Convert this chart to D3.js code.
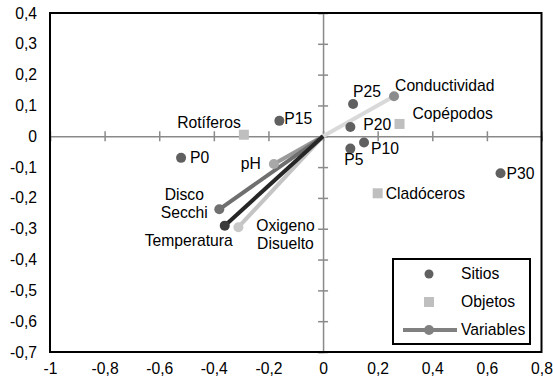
<!DOCTYPE html>
<html>
<head>
<meta charset="utf-8">
<script src="https://cdn.jsdelivr.net/npm/d3@7"></script>
<style>
  body { margin: 0; background: #fff; }
  svg { font-family: "Liberation Sans", Arial, sans-serif; }
</style>
</head>
<body>
<div id="chart"></div>
<script>
// data
var sitios = ["P0", "P5", "P10", "P15", "P20", "P25", "P30"];
var sitiosX = [-0.52, 0.10, 0.15, -0.16, 0.10, 0.11, 0.65];
var sitiosY = [-0.07, -0.04, -0.02, 0.05, 0.03, 0.105, -0.12];

var objetos = ["Rotíferos", "Copépodos", "Cladóceros"];
var objetosX = [-0.29, 0.28, 0.20];
var objetosY = [0.005, 0.04, -0.185];

var variables = ["pH", "Conductividad", "Oxigeno Disuelto", "Disco Secchi", "Temperatura"];
var variablesX = [-0.18, 0.26, -0.31, -0.38, -0.36];
var variablesY = [-0.09, 0.13, -0.295, -0.237, -0.29];

var xTicks = [-1, -0.8, -0.6, -0.4, -0.2, 0, 0.2, 0.4, 0.6, 0.8];
var yTicks = [-0.7, -0.6, -0.5, -0.4, -0.3, -0.2, -0.1, 0, 0.1, 0.2, 0.3, 0.4];
var legendNames = ["Sitios", "Objetos", "Variables"];

var width = 553, height = 383;
var plot = {left: 50, right: 541.5, top: 13, bottom: 352};
var fontSize = "15.7px";

var x = d3.scaleLinear().domain([-1, 0.8]).range([plot.left, plot.right]);
var y = d3.scaleLinear().domain([-0.7, 0.4]).range([plot.bottom, plot.top]);

var fmt = function(d) { return String(+d.toFixed(1)).replace(".", ","); };

// label placement: [dx, dy, anchor]
var labelPos = {
  "P0": [9, 0, "start"], "P5": [-6, 11, "start"], "P10": [7, 6, "start"],
  "P15": [5, -2, "start"], "P20": [13, -3, "start"], "P25": [0, -12, "start"],
  "P30": [6, 0, "start"],
  "Rotíferos": [-3, -12, "end"], "Copépodos": [13, -10, "start"], "Cladóceros": [8, 0, "start"],
  "pH": [-13, -1, "end"], "Conductividad": [1, -11, "start"],
  "Oxigeno Disuelto": [47, -2, "middle"], "Disco Secchi": [-35, -15, "middle"],
  "Temperatura": [-36, 15, "middle"]
};
var varStyle = {
  "pH": ["#9a9a9a", "#a8a8a8"],
  "Conductividad": ["#d9d9d9", "#8c8c8c"],
  "Oxigeno Disuelto": ["#c4c4c4", "#c8c8c8"],
  "Disco Secchi": ["#6f6f6f", "#707070"],
  "Temperatura": ["#262626", "#3a3a3a"]
};

var svg = d3.select("#chart").append("svg")
    .attr("width", width)
    .attr("height", height);

// tick labels
svg.append("g")
    .attr("transform", "translate(" + (plot.left - 3) + ",0)")
    .call(d3.axisLeft(y).tickValues(yTicks).tickSize(0).tickPadding(10).tickFormat(fmt))
    .call(function(g) { g.select(".domain").remove(); })
    .selectAll("text").style("font-size", fontSize).attr("fill", "#000");

svg.append("g")
    .attr("transform", "translate(0," + (plot.bottom + 6) + ")")
    .call(d3.axisBottom(x).tickValues(xTicks).tickSize(0).tickPadding(5).tickFormat(fmt))
    .call(function(g) { g.select(".domain").remove(); })
    .selectAll("text").style("font-size", fontSize).attr("fill", "#000");

// axes through origin
var hx = svg.append("g")
    .attr("transform", "translate(0," + y(0) + ")")
    .call(d3.axisBottom(x).tickValues(xTicks).tickSize(5).tickFormat(""));
hx.select(".domain").attr("stroke", "#8a8a8a").attr("stroke-width", 1.5);
hx.selectAll(".tick line").attr("y1", -5).attr("stroke", "#8a8a8a").attr("stroke-width", 1.5);

var vy = svg.append("g")
    .attr("transform", "translate(" + x(0) + ",0)")
    .call(d3.axisLeft(y).tickValues(yTicks).tickSize(5).tickFormat(""));
vy.select(".domain").attr("stroke", "#8a8a8a").attr("stroke-width", 1.5);
vy.selectAll(".tick line").attr("x1", 5).attr("stroke", "#8a8a8a").attr("stroke-width", 1.5);

// plot border
svg.append("rect")
    .attr("x", plot.left).attr("y", plot.top)
    .attr("width", plot.right - plot.left).attr("height", plot.bottom - plot.top)
    .attr("fill", "none").attr("stroke", "#000").attr("stroke-width", 2);

function addLabel(name, px, py) {
  var p = labelPos[name];
  var words = name.indexOf(" ") > 0 && p[2] == "middle" && name != "Temperatura" ? name.split(" ") : [name];
  svg.append("text")
      .attr("x", px + p[0])
      .attr("y", py + p[1])
      .attr("text-anchor", p[2])
      .attr("dy", "0.35em")
      .style("font-size", fontSize)
      .text(words[0]);
  if (words.length > 1) {
    svg.append("text")
        .attr("x", px + p[0])
        .attr("y", py + p[1] + 18)
        .attr("text-anchor", p[2])
        .attr("dy", "0.35em")
        .style("font-size", fontSize)
        .text(words[1]);
  }
}

// variables (vectors)
variables.forEach(function(v, i) {
  svg.append("line")
      .attr("x1", x(0)).attr("y1", y(0))
      .attr("x2", x(variablesX[i])).attr("y2", y(variablesY[i]))
      .attr("stroke", varStyle[v][0]).attr("stroke-width", 4);
});
variables.forEach(function(v, i) {
  svg.append("circle")
      .attr("cx", x(variablesX[i])).attr("cy", y(variablesY[i]))
      .attr("r", 5)
      .attr("fill", varStyle[v][1]);
  addLabel(v, x(variablesX[i]), y(variablesY[i]));
});

// objetos
svg.selectAll(".obj")
    .data(objetos)
    .enter()
    .append("rect")
    .attr("x", function(d, i) { return x(objetosX[i]) - 5; })
    .attr("y", function(d, i) { return y(objetosY[i]) - 5; })
    .attr("width", 10).attr("height", 10)
    .attr("fill", "#bfbfbf");
objetos.forEach(function(o, i) { addLabel(o, x(objetosX[i]), y(objetosY[i])); });

// sitios
svg.selectAll(".sit")
    .data(sitios)
    .enter()
    .append("circle")
    .attr("cx", function(d, i) { return x(sitiosX[i]); })
    .attr("cy", function(d, i) { return y(sitiosY[i]); })
    .attr("r", 5)
    .attr("fill", "#606060");
sitios.forEach(function(s, i) { addLabel(s, x(sitiosX[i]), y(sitiosY[i])); });

// legend
var lg = svg.append("g").attr("transform", "translate(393,259)");
lg.append("rect")
    .attr("width", 137).attr("height", 85)
    .attr("fill", "#fff").attr("stroke", "#000").attr("stroke-width", 2);
lg.append("circle").attr("cx", 36).attr("cy", 15).attr("r", 4.5).attr("fill", "#606060");
lg.append("rect").attr("x", 31).attr("y", 38).attr("width", 10).attr("height", 10).attr("fill", "#bfbfbf");
lg.append("line").attr("x1", 10).attr("x2", 64).attr("y1", 71).attr("y2", 71)
    .attr("stroke", "#808080").attr("stroke-width", 4);
lg.append("circle").attr("cx", 36).attr("cy", 71).attr("r", 5).attr("fill", "#808080");
lg.selectAll(".lt")
    .data(legendNames)
    .enter()
    .append("text")
    .attr("x", 68)
    .attr("y", function(d, i) { return [15, 43, 71][i]; })
    .attr("dy", "0.35em")
    .style("font-size", fontSize)
    .text(function(d) { return d; });
</script>
</body>
</html>
